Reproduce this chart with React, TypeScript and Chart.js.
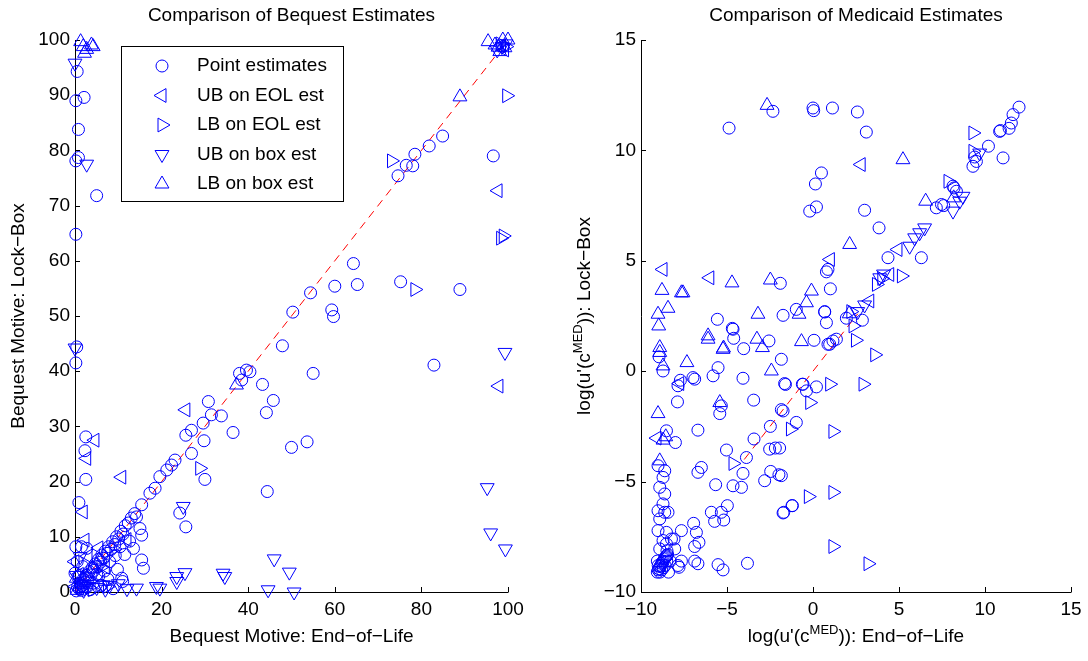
import React, { useEffect, useRef } from 'react';
import { Chart, registerables } from 'chart.js';

Chart.register(...registerables);

type P = [number, number];

// ---------- Left panel: Bequest motive ----------
const bequestPoint: P[] = [
  [0.5, 94.3], [0.2, 89.0], [2.1, 89.6], [0.8, 83.8], [0.8, 78.7], [0.2, 78.1], [5.0, 71.8], [0.2, 64.8], [0.4, 44.4], [0.2, 41.5],
  [74.6, 75.4], [76.5, 77.3], [78.0, 77.2], [78.5, 79.3], [81.8, 80.8], [84.9, 82.6], [96.6, 79.0], [75.2, 56.2], [88.9, 54.8], [82.9, 41.1],
  [64.3, 59.5], [60.0, 55.4], [65.2, 55.7], [54.4, 54.2], [50.3, 50.7], [59.3, 51.1], [59.7, 49.9], [47.9, 44.6], [55.0, 39.6],
  [38.0, 39.6], [39.6, 40.2], [38.5, 38.4], [40.4, 39.9], [43.3, 37.6], [45.8, 34.7], [44.2, 32.5], [50.0, 26.2], [53.6, 27.2], [44.4, 18.2],
  [30.8, 34.5], [31.5, 32.1], [33.8, 31.9], [36.5, 28.9], [29.6, 30.6], [26.9, 29.3], [25.6, 28.4], [26.9, 25.1], [29.8, 27.4], [30.0, 20.4],
  [23.1, 23.9], [22.3, 23.0], [21.2, 22.1], [19.6, 20.9], [18.5, 18.8], [17.3, 17.9], [15.4, 15.8], [14.2, 13.6], [15.0, 11.5], [15.4, 10.3],
  [15.4, 5.8], [15.8, 4.3], [24.2, 14.3], [25.6, 11.8], [10.8, 2.5], [10.4, 8.2],
  [2.5, 28.1], [2.3, 25.6], [2.5, 20.4], [0.9, 16.2], [0.2, 8.2], [2.7, 7.9], [0.0, 3.4], [1.5, 8.2],
  [0.3, 0.2], [0.6, 0.9], [1.0, 0.5], [1.2, 1.6], [1.6, 1.1], [1.9, 2.3], [2.3, 1.8], [2.6, 3.0], [3.0, 2.4], [3.3, 3.7], [3.7, 3.1],
  [4.0, 4.4], [4.4, 3.9], [4.7, 5.1], [5.1, 4.6], [5.4, 5.9], [5.9, 5.4], [6.2, 6.7], [6.6, 6.1], [7.0, 7.4], [7.4, 7.0], [7.8, 8.2],
  [8.3, 7.7], [8.7, 9.1], [9.2, 8.6], [9.6, 10.0], [10.1, 9.6], [10.6, 11.0], [11.1, 10.5], [11.6, 12.0], [12.3, 12.5], [13.0, 13.4], [13.8, 14.2],
  [1.5, 0.3], [2.8, 0.9], [4.2, 1.6], [5.5, 2.9], [6.8, 3.8], [8.0, 5.5], [9.3, 6.6], [3.5, 0.4], [6.0, 1.2], [7.6, 2.3], [9.8, 4.1],
  [11.5, 6.8], [12.6, 9.2], [5.0, 3.2], [8.8, 0.6], [11.0, 1.9], [13.5, 7.9], [1.0, 3.0], [0.5, 5.5], [1.8, 4.6],
];
const bequestUbEol: P[] = [
  [4.6, 27.5], [2.7, 24.2], [10.8, 20.8], [25.6, 33.0], [1.9, 14.5], [2.3, 9.4], [0.0, 5.5], [97.7, 72.7], [97.9, 37.3],
  [1.0, 3.2], [3.0, 6.5], [5.5, 8.0], [7.0, 4.5], [12.0, 9.5], [0.2, 1.0], [98.5, 99.0], [99.2, 98.2],
];
const bequestLbEol: P[] = [
  [28.8, 22.4], [73.1, 78.1], [99.7, 89.9], [98.9, 64.5], [98.3, 64.1], [78.5, 54.8], [1.5, 0.8], [3.5, 2.0], [6.0, 4.5],
  [9.0, 7.8], [4.0, 0.4], [7.5, 1.0], [98.2, 99.3], [99.5, 98.8],
];
const bequestUbBox: P[] = [
  [0.0, 95.8], [2.7, 77.5], [0.0, 44.2], [25.0, 15.5], [14.2, 0.7], [18.8, 1.0], [19.6, 0.7], [23.5, 2.8], [25.4, 3.5], [23.5, 1.9],
  [34.2, 3.4], [34.6, 2.8], [46.0, 6.0], [49.5, 3.6], [44.6, 0.4], [50.6, 0.0], [95.2, 18.9], [96.0, 10.7], [99.4, 7.8], [99.3, 43.4],
  [1.0, 1.5], [3.0, 1.0], [5.0, 0.8], [7.0, 0.5], [8.0, 1.2], [10.0, 1.5], [2.0, 0.3], [12.0, 0.6], [0.3, 3.0], [1.2, 6.4], [6.5, 1.3],
  [97.5, 98.2], [98.6, 98.8], [99.5, 99.3],
];
const bequestLbBox: P[] = [
  [1.3, 99.7], [1.9, 98.8], [2.7, 98.3], [3.8, 99.1], [4.2, 98.8], [2.2, 97.6], [95.4, 99.7], [97.0, 99.1], [98.1, 97.9], [98.8, 100.0],
  [97.7, 98.7], [99.3, 98.6], [100.0, 100.0], [88.9, 89.7], [37.3, 37.5], [0.5, 0.3], [1.2, 1.4], [2.5, 2.8], [4.0, 4.3], [5.5, 5.8],
  [0.3, 2.5], [1.8, 0.6],
];
const bequestDiagonal: P[] = [[0, 0], [100, 100]];

// ---------- Right panel: Medicaid ----------
const medicaidPoint: P[] = [
  [-2.33, 11.77], [0.0, 11.92], [0.04, 11.8], [1.13, 11.92], [2.58, 11.74], [3.1, 10.83], [-4.88, 11.01], [0.49, 8.98], [0.14, 8.48],
  [0.2, 7.44], [-0.19, 7.25], [3.0, 7.29], [3.84, 6.49], [0.87, 4.61], [0.78, 4.5], [1.01, 3.73], [-1.9, 3.98], [-5.56, 2.35],
  [-1.74, 2.53], [-0.97, 2.8], [0.68, 2.7], [0.78, 2.2], [1.94, 2.4], [2.87, 2.31], [-4.69, 1.94], [-4.65, 1.9], [-4.61, 1.49],
  [-4.03, 1.02], [-8.95, 0.65], [-8.72, 0.01], [-5.52, 0.16], [-5.81, -0.21], [-6.98, -0.29], [-7.71, -0.41], [-4.07, -0.32],
  [-2.56, 1.37], [0.06, 1.4], [0.87, 1.22], [-1.84, 0.54], [-6.88, -0.36], [-7.85, -0.66], [-1.65, -0.56], [-1.6, -0.6],
  [-0.62, -0.59], [-0.38, -0.89], [0.2, -0.71], [-3.45, -1.31], [-5.33, -1.57], [-5.42, -1.92], [-7.88, -1.39], [-6.69, -2.67],
  [-8.52, -2.7], [-8.0, -3.23], [-1.84, -1.74], [-0.97, -2.32], [-2.48, -2.5], [-3.43, -3.07], [-5.03, -3.57], [-2.52, -3.53],
  [-2.19, -3.48], [-3.87, -3.91], [-4.07, -4.63], [-2.46, -4.54], [-1.98, -4.69], [-2.81, -4.96], [-6.69, -4.58], [-6.49, -4.36],
  [-5.66, -5.14], [-4.65, -5.19], [-4.16, -5.26], [-1.22, -6.09], [-1.7, -6.39], [-4.98, -6.09], [-5.33, -6.39], [-5.91, -6.39],
  [-5.72, -6.8], [-5.19, -6.74], [-6.94, -6.89], [-6.78, -7.3], [-6.63, -7.75], [-6.88, -7.94], [-7.65, -7.22], [-8.08, -7.6],
  [-8.52, -7.82], [-6.88, -8.6], [-6.69, -8.72], [-7.65, -8.6], [-7.79, -8.88], [-5.52, -8.76], [-5.23, -9.0], [-3.81, -8.7],
  [-9.01, -4.28], [-8.62, -4.51], [-8.72, -4.81], [-8.91, -5.26], [-8.62, -5.56], [-8.72, -6.01], [-9.01, -6.32], [-8.62, -6.39],
  [-8.91, -6.69], [-8.43, -6.39], [-9.01, -7.22], [-8.52, -7.3], [-8.72, -7.67], [-8.23, -7.6], [-8.04, -8.05], [-8.91, -8.05],
  [-8.49, -8.13], [-7.85, -8.8],
  [-9.05, -9.1], [-9.0, -9.0], [-8.95, -8.95], [-8.9, -8.85], [-8.85, -8.8], [-8.8, -8.7], [-8.75, -8.65], [-8.7, -8.6], [-8.65, -8.5],
  [-8.6, -8.45], [-8.55, -8.4], [-8.5, -8.35], [-8.45, -8.3], [-9.0, -8.8], [-8.8, -9.0], [-8.6, -8.8], [-8.9, -9.1], [-8.7, -8.9],
  [-8.5, -8.6], [-9.05, -8.6], [-8.3, -8.6], [-8.4, -9.1],
  [0.68, 2.68], [1.16, 1.37], [1.36, 1.45], [0.97, 1.22], [4.36, 5.14], [6.3, 5.14], [7.17, 7.4], [7.47, 7.55], [7.6, 7.5],
  [8.14, 8.38], [8.34, 8.15], [8.2, 8.3], [10.2, 10.19], [9.3, 9.28], [9.5, 9.5], [9.4, 9.7], [10.85, 10.86], [10.9, 10.9],
  [11.05, 9.66], [11.53, 11.24], [11.63, 11.62], [11.98, 11.96], [11.4, 11.0], [-1.74, -1.8], [-1.2, -6.09], [-1.74, -6.42],
  [-1.84, -4.73], [-1.94, -3.48], [-0.58, -0.59],
];
const medicaidUbEol: P[] = [
  [2.8, 9.36], [1.01, 5.06], [-6.0, 4.23], [-8.72, 4.61], [-7.75, -0.56], [-9.07, -3.03], [4.46, 4.38], [4.94, 5.51], [3.3, 3.18],
];
const medicaidLbEol: P[] = [
  [0.97, -0.59], [-0.19, -1.42], [-1.31, -2.62], [-4.65, -4.18], [-0.27, -5.68], [2.33, 2.05], [2.47, 1.4], [3.59, 0.74],
  [2.91, -0.59], [1.16, -2.73], [1.16, -5.49], [1.16, -7.94], [3.2, -8.72], [3.69, 3.93], [5.14, 4.31], [7.85, 8.6],
  [9.3, 10.79], [9.3, 9.96], [4.0, 4.2], [2.2, 2.7],
];
const medicaidUbBox: P[] = [
  [5.62, 5.66], [5.91, 6.04], [6.2, 6.27], [6.49, 6.49], [8.72, 7.92], [8.53, 7.7], [8.14, 7.25], [9.69, 9.88], [2.6, 2.7],
  [3.88, 4.23], [4.1, 4.4], [3.0, 3.0],
];
const medicaidLbBox: P[] = [
  [-2.67, 12.04], [5.23, 9.58], [2.13, 5.74], [-4.71, 4.0], [-2.48, 4.13], [-7.56, 3.55], [-0.09, 3.63], [-0.38, 3.1], [-3.2, 2.58],
  [-0.81, 2.58], [-6.1, 1.6], [-8.78, 3.66], [-7.65, 3.55], [-8.43, 2.85], [-9.01, 2.58], [-8.97, 2.05], [-6.1, 1.45], [-5.23, 0.99],
  [-5.2, 1.05], [-8.91, 1.07], [-8.91, 0.85], [-8.72, 0.24], [-7.33, 0.39], [-3.26, 1.45], [-2.94, 1.07], [-0.67, 1.34], [-2.42, 0.01],
  [-5.42, -1.42], [-9.01, -1.92], [-8.56, -2.97], [-8.72, -3.12], [-8.91, -4.06], [6.55, 7.7], [8.18, 7.85], [2.1, 2.6],
];
const medicaidDiagonal: P[] = [[-4, -4], [2.6, 2.6]];

const legendLabels = ['Point estimates', 'UB on EOL est', 'LB on EOL est', 'UB on box est', 'LB on box est'];

const BLUE = '#0000ff';
const FONT = '"Liberation Sans", Arial, Helvetica, sans-serif';
const FS = 19;

type Seg = { t: string; sup?: boolean };

const markerStyles = [
  { style: 'circle', rot: 0, r: 6 },
  { style: 'triangle', rot: -90, r: 8 },
  { style: 'triangle', rot: 90, r: 8 },
  { style: 'triangle', rot: 180, r: 8 },
  { style: 'triangle', rot: 0, r: 8 },
];

function drawMarker(ctx: CanvasRenderingContext2D, style: string, rot: number, r: number, x: number, y: number) {
  ctx.beginPath();
  if (style === 'circle') {
    ctx.arc(x, y, r, 0, Math.PI * 2);
  } else {
    let rad = (rot * Math.PI) / 180;
    ctx.moveTo(x + Math.sin(rad) * r, y - Math.cos(rad) * r);
    rad += (2 * Math.PI) / 3;
    ctx.lineTo(x + Math.sin(rad) * r, y - Math.cos(rad) * r);
    rad += (2 * Math.PI) / 3;
    ctx.lineTo(x + Math.sin(rad) * r, y - Math.cos(rad) * r);
    ctx.closePath();
  }
  ctx.stroke();
}

function drawRich(ctx: CanvasRenderingContext2D, segs: Seg[], cx: number, cy: number, rot: number) {
  ctx.save();
  ctx.translate(cx, cy);
  if (rot) ctx.rotate(rot);
  const main = `${FS}px ${FONT}`;
  const sup = `13px ${FONT}`;
  let total = 0;
  const widths = segs.map((s) => {
    ctx.font = s.sup ? sup : main;
    const w = ctx.measureText(s.t).width;
    total += w;
    return w;
  });
  let x = -total / 2;
  ctx.textBaseline = 'middle';
  ctx.textAlign = 'left';
  ctx.fillStyle = '#000';
  segs.forEach((s, i) => {
    ctx.font = s.sup ? sup : main;
    ctx.fillText(s.t, x, s.sup ? -7 : 0);
    x += widths[i];
  });
  ctx.restore();
}

interface PanelCfg {
  title: string;
  xTitle: Seg[];
  yTitle: Seg[];
  yTitleX: number;
  legend: boolean;
}

function makeDecor(cfg: PanelCfg) {
  return {
    id: 'decor',
    beforeDatasetsDraw(chart: any) {
      const { ctx, chartArea: a, scales } = chart;
      ctx.save();
      ctx.strokeStyle = '#000';
      ctx.lineWidth = 1;
      ctx.beginPath();
      ctx.moveTo(a.left + 0.5, a.top);
      ctx.lineTo(a.left + 0.5, a.bottom + 0.5);
      ctx.lineTo(a.right + 0.5, a.bottom + 0.5);
      ctx.stroke();
      ctx.beginPath();
      scales.x.ticks.forEach((t: any) => {
        const px = Math.round(scales.x.getPixelForValue(t.value)) + 0.5;
        ctx.moveTo(px, a.bottom);
        ctx.lineTo(px, a.bottom - 5);
      });
      scales.y.ticks.forEach((t: any) => {
        const py = Math.round(scales.y.getPixelForValue(t.value)) + 0.5;
        ctx.moveTo(a.left, py);
        ctx.lineTo(a.left + 5, py);
      });
      ctx.stroke();
      ctx.restore();
    },
    afterDraw(chart: any) {
      const { ctx, chartArea: a } = chart;
      ctx.save();
      ctx.fillStyle = '#000';
      ctx.font = `${FS}px ${FONT}`;
      ctx.textAlign = 'center';
      ctx.textBaseline = 'middle';
      const cx = (a.left + a.right) / 2;
      ctx.fillText(cfg.title, cx, 16);
      ctx.restore();
      drawRich(ctx, cfg.xTitle, cx, 637, 0);
      drawRich(ctx, cfg.yTitle, cfg.yTitleX, (a.top + a.bottom) / 2, -Math.PI / 2);
      if (cfg.legend) {
        ctx.save();
        ctx.fillStyle = '#fff';
        ctx.fillRect(121.5, 46.5, 222, 155);
        ctx.strokeStyle = '#000';
        ctx.lineWidth = 1;
        ctx.strokeRect(121.5, 46.5, 222, 155);
        const rows = [66, 95.5, 125, 154.5, 184];
        legendLabels.forEach((lab, i) => {
          const m = markerStyles[i];
          ctx.strokeStyle = BLUE;
          drawMarker(ctx, m.style, m.rot, m.r, 162, rows[i]);
          ctx.fillStyle = '#000';
          ctx.font = `${FS}px ${FONT}`;
          ctx.textAlign = 'left';
          ctx.textBaseline = 'middle';
          ctx.fillText(lab, 197, rows[i]);
        });
        ctx.restore();
      }
    },
  };
}

function toXY(arr: P[]) {
  return arr.map(([x, y]) => ({ x, y }));
}

function fmt(v: any) {
  return String(v).replace('-', '\u2212');
}

function zeroPad(s: any) {
  s.paddingLeft = 0;
  s.paddingRight = 0;
  s.paddingTop = 0;
  s.paddingBottom = 0;
}

function buildConfig(
  series: P[][],
  diag: P[],
  xr: [number, number, number],
  yr: [number, number, number],
  yWidth: number,
  padRight: number,
  cfg: PanelCfg
): any {
  const markerSets = series.map((s, i) => ({
    data: toXY(s),
    showLine: false,
    pointStyle: markerStyles[i].style,
    pointRotation: markerStyles[i].rot,
    pointRadius: markerStyles[i].r,
    pointBorderWidth: 1,
    pointBorderColor: BLUE,
    borderColor: BLUE,
    pointBackgroundColor: 'rgba(0,0,0,0)',
    backgroundColor: 'rgba(0,0,0,0)',
    clip: false,
  }));
  const lineSet = {
    data: toXY(diag),
    showLine: true,
    pointRadius: 0,
    borderColor: '#ff0000',
    borderWidth: 1,
    borderDash: [8, 6],
    fill: false,
  };
  const tickFont = { family: FONT, size: FS };
  return {
    type: 'scatter',
    data: { datasets: [...markerSets, lineSet] },
    options: {
      responsive: false,
      animation: false,
      devicePixelRatio: 1,
      events: [],
      layout: { padding: { top: 40, right: padRight, bottom: 0, left: 0 } },
      plugins: { legend: { display: false }, title: { display: false }, tooltip: { enabled: false } },
      scales: {
        x: {
          type: 'linear',
          min: xr[0],
          max: xr[1],
          ticks: { stepSize: xr[2], font: tickFont, color: '#000', padding: 6, autoSkip: false, maxRotation: 0, callback: fmt },
          grid: { display: false, drawTicks: false },
          border: { display: false },
          afterFit: (s: any) => {
            s.height = 69;
            zeroPad(s);
          },
        },
        y: {
          type: 'linear',
          min: yr[0],
          max: yr[1],
          ticks: { stepSize: yr[2], font: tickFont, color: '#000', padding: 5, autoSkip: false, callback: fmt },
          grid: { display: false, drawTicks: false },
          border: { display: false },
          afterFit: (s: any) => {
            s.width = yWidth;
            zeroPad(s);
          },
        },
      },
    },
    plugins: [makeDecor(cfg)],
  };
}

export default function App() {
  const leftRef = useRef<HTMLCanvasElement>(null);
  const rightRef = useRef<HTMLCanvasElement>(null);

  useEffect(() => {
    const c1 = new Chart(
      leftRef.current as HTMLCanvasElement,
      buildConfig(
        [bequestPoint, bequestUbEol, bequestLbEol, bequestUbBox, bequestLbBox],
        bequestDiagonal,
        [0, 100, 20],
        [0, 100, 10],
        75,
        36,
        {
          title: 'Comparison of Bequest Estimates',
          xTitle: [{ t: 'Bequest Motive: End\u2212of\u2212Life' }],
          yTitle: [{ t: 'Bequest Motive: Lock\u2212Box' }],
          yTitleX: 19,
          legend: true,
        }
      )
    );
    const c2 = new Chart(
      rightRef.current as HTMLCanvasElement,
      buildConfig(
        [medicaidPoint, medicaidUbEol, medicaidLbEol, medicaidUbBox, medicaidLbBox],
        medicaidDiagonal,
        [-10, 15, 5],
        [-10, 15, 5],
        97,
        17,
        {
          title: 'Comparison of Medicaid Estimates',
          xTitle: [{ t: "log(u'(c" }, { t: 'MED', sup: true }, { t: ')): End\u2212of\u2212Life' }],
          yTitle: [{ t: "log(u'(c" }, { t: 'MED', sup: true }, { t: ')): Lock\u2212Box' }],
          yTitleX: 41,
          legend: false,
        }
      )
    );
    return () => {
      c1.destroy();
      c2.destroy();
    };
  }, []);

  return (
    <div style={{ position: 'absolute', left: 0, top: 0, width: 1088, height: 661, background: '#fff' }}>
      <canvas ref={leftRef} width={544} height={661} style={{ position: 'absolute', left: 0, top: 0 }} />
      <canvas ref={rightRef} width={544} height={661} style={{ position: 'absolute', left: 544, top: 0 }} />
    </div>
  );
}
